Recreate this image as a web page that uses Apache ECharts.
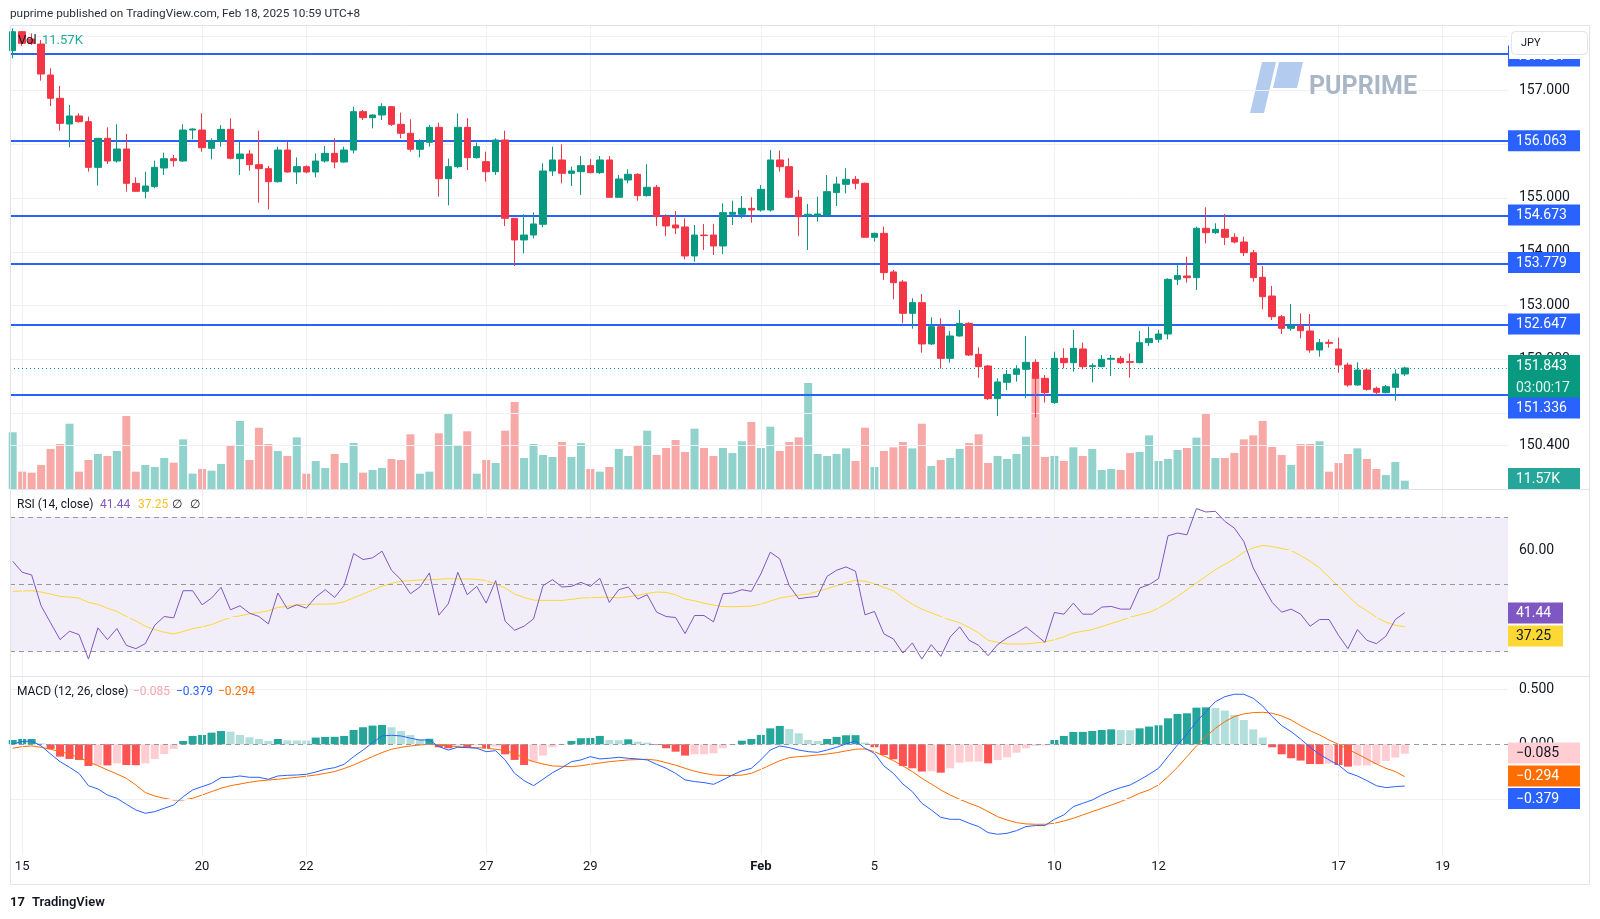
<!DOCTYPE html>
<html><head><meta charset="utf-8">
<script src="https://cdn.jsdelivr.net/npm/echarts@6/dist/echarts.min.js"></script>
<style>html,body{margin:0;padding:0;background:#fff;}#c{width:1600px;height:919px;}</style>
</head><body><div id="c"></div>
<script>
// ---------- DATA ----------
const opens=[157.735,158.087,157.951,157.858,157.283,156.850,156.373,156.522,156.416,155.568,156.107,155.686,155.909,155.271,155.123,155.210,155.556,155.729,155.686,156.261,156.261,155.921,156.057,156.274,155.729,155.816,155.618,155.544,155.302,155.890,155.482,155.581,155.482,155.686,155.828,155.667,155.890,156.602,156.491,156.540,156.695,156.367,156.200,155.903,156.033,156.311,155.358,155.581,156.311,155.748,155.674,155.488,156.076,154.622,154.220,154.312,154.511,155.501,155.705,155.457,155.488,155.600,155.470,155.705,155.012,155.334,155.439,155.043,155.198,154.653,154.498,154.461,153.923,154.312,154.312,154.108,154.696,154.696,154.807,154.776,154.776,155.705,155.581,155.012,154.672,154.665,154.684,155.099,155.253,155.346,155.272,154.269,154.343,153.626,153.440,152.858,153.056,152.289,152.610,152.022,152.437,152.672,152.097,151.880,151.274,151.577,151.725,151.818,151.948,151.651,151.200,152.022,151.942,152.196,151.868,151.868,152.004,152.022,151.961,151.942,152.313,152.375,152.474,153.489,153.551,153.520,154.436,154.355,154.417,154.269,154.182,153.984,153.526,153.179,152.795,152.579,152.622,152.530,152.177,152.319,152.195,151.898,151.527,151.805,151.465,151.385,151.484,151.731];
const highs=[158.149,158.100,158.056,157.933,157.407,157.079,156.726,156.571,156.509,156.107,156.311,156.367,156.187,155.383,155.488,155.692,155.841,155.797,156.367,156.292,156.571,156.107,156.354,156.478,156.045,155.890,156.249,155.593,155.952,156.045,155.754,155.605,155.828,155.965,156.107,155.952,156.695,156.633,156.552,156.757,156.707,156.584,156.460,156.089,156.355,156.398,155.730,156.571,156.479,156.027,155.860,156.107,156.250,154.622,154.696,154.733,155.643,155.953,155.996,155.581,155.779,155.724,155.779,155.779,155.427,155.532,155.458,155.625,155.241,154.696,154.758,154.622,154.498,154.517,154.517,154.900,154.950,155.037,155.012,155.241,155.891,155.878,155.736,155.148,154.888,155.024,155.426,155.395,155.550,155.408,155.284,154.356,154.467,153.663,153.477,153.137,153.217,152.784,152.765,152.530,152.920,152.691,152.227,151.899,151.651,151.806,151.893,152.437,152.004,151.713,152.146,152.208,152.549,152.313,151.930,152.084,152.084,152.066,152.115,152.530,152.610,152.549,153.508,153.756,153.910,154.467,154.826,154.529,154.702,154.343,154.281,154.034,153.736,153.365,152.827,153.031,152.858,152.845,152.381,152.375,152.406,151.941,151.948,151.836,151.496,151.527,151.818,151.867];
const lows=[157.592,157.820,157.840,157.178,156.707,156.249,155.940,156.398,155.488,155.228,155.630,155.655,155.117,155.117,154.993,155.179,155.426,155.581,155.667,156.088,155.859,155.717,155.952,155.717,155.426,155.507,154.912,154.789,155.284,155.470,155.259,155.457,155.383,155.655,155.550,155.655,155.828,156.447,156.292,156.447,156.336,156.107,155.860,155.754,155.953,155.024,154.863,155.550,155.519,155.730,155.303,155.427,154.480,153.737,153.972,154.250,154.455,155.408,155.272,155.222,155.055,155.457,155.445,155.012,155.012,155.272,154.950,155.024,154.480,154.294,154.331,153.861,153.817,154.034,153.941,153.960,154.498,154.622,154.542,154.746,154.746,155.488,154.993,154.294,154.034,154.560,154.684,154.851,155.086,155.160,154.269,154.189,153.477,153.118,152.672,152.573,152.128,152.270,151.831,151.942,152.425,152.066,151.664,151.249,150.952,151.435,151.589,151.280,150.927,151.200,151.175,151.837,151.775,151.818,151.577,151.856,151.694,151.918,151.663,151.930,152.252,152.313,152.375,153.384,153.427,153.291,154.157,154.331,154.126,154.157,153.922,153.445,152.932,152.734,152.474,152.536,152.393,152.127,152.053,152.220,151.756,151.496,151.514,151.422,151.341,151.372,151.236,151.694];
const closes=[158.087,157.871,157.871,157.301,156.850,156.385,156.522,156.416,155.568,156.107,155.686,155.909,155.271,155.123,155.222,155.568,155.729,155.692,156.261,156.280,155.934,156.057,156.274,155.736,155.816,155.618,155.544,155.302,155.890,155.482,155.581,155.482,155.686,155.828,155.667,155.890,156.602,156.491,156.540,156.695,156.367,156.200,155.903,156.045,156.311,155.358,155.581,156.311,155.748,155.953,155.488,156.076,154.622,154.220,154.312,154.517,155.501,155.705,155.457,155.501,155.600,155.470,155.705,155.012,155.352,155.439,155.043,155.198,154.653,154.480,154.443,153.923,154.312,154.300,154.108,154.727,154.733,154.807,154.776,155.160,155.705,155.581,155.012,154.653,154.697,154.702,155.117,155.259,155.346,155.272,154.269,154.343,153.613,153.427,152.858,153.056,152.289,152.610,152.022,152.437,152.672,152.084,151.868,151.274,151.583,151.725,151.825,151.948,151.651,151.385,152.022,151.942,152.208,151.868,151.887,152.004,152.022,151.942,151.948,152.313,152.388,152.474,153.489,153.558,153.520,154.436,154.355,154.417,154.269,154.182,153.984,153.520,153.167,152.795,152.579,152.622,152.536,152.177,152.313,152.301,151.898,151.527,151.805,151.446,151.391,151.496,151.731,151.843];
const volumes=[78.8,24.1,22.7,33.4,55.6,62.6,90.8,24.1,40.3,48.7,45.9,52.8,101.5,24.1,33.4,30.6,43.1,36.6,69.0,21.3,27.8,25.5,34.8,61.2,94.5,40.3,85.2,62.6,52.8,45.9,71.8,21.3,38.9,29.2,48.7,36.1,63.9,22.7,26.4,29.2,41.7,40.3,76.0,21.3,24.1,77.4,105.6,61.2,80.2,21.3,40.3,36.1,81.1,120.9,43.1,62.6,47.3,44.5,65.3,44.5,63.9,27.8,24.1,30.6,55.6,45.9,61.2,81.1,47.3,57.0,68.1,51.4,83.9,57.0,45.9,57.0,50.0,66.3,93.1,57.0,86.6,52.8,65.3,71.8,147.3,48.7,45.9,48.7,56.5,38.9,85.2,30.6,52.8,57.9,65.3,56.5,90.8,32.0,40.3,43.1,55.6,63.9,76.0,36.1,45.9,41.7,48.7,72.7,161.0,44.5,45.9,38.9,57.9,45.9,55.6,26.4,27.8,26.4,50.0,51.4,74.6,38.9,41.7,54.2,57.0,71.4,104.3,43.1,43.1,50.0,69.0,74.6,94.5,58.4,47.3,33.4,62.6,62.6,66.3,24.1,36.1,48.7,56.5,41.7,27.8,19.5,37.5,11.57];
const rsi=[56.8,53.5,52.7,43.5,38.4,33.4,35.9,34.9,27.6,36.9,33.4,36.7,31.7,30.7,32.2,37.7,40.3,39.9,48.0,48.0,43.8,45.8,49.0,42.3,43.5,41.3,40.3,38.1,47.3,42.6,43.8,42.8,46.1,48.3,46.0,49.6,59.1,57.3,57.8,59.8,54.1,51.3,47.1,49.1,53.3,40.7,44.1,53.5,46.8,49.3,44.3,51.0,38.9,36.2,37.4,39.6,49.5,51.3,49.1,49.3,50.5,49.3,51.7,44.5,48.3,49.1,45.5,46.8,41.6,40.3,40.0,35.2,40.6,40.6,38.7,47.1,47.3,48.3,47.8,53.0,59.5,57.5,49.5,45.6,46.0,46.3,52.3,54.1,55.1,53.8,40.8,41.8,35.1,33.6,29.4,32.4,27.6,31.9,28.4,34.2,37.2,33.2,31.7,28.6,31.9,33.9,35.4,37.2,34.9,32.6,41.5,41.0,44.3,41.0,41.0,43.1,43.3,42.5,42.5,48.8,49.8,51.6,64.4,65.2,64.7,72.5,71.5,71.7,68.7,66.7,62.7,54.8,49.5,44.5,41.6,42.5,41.0,37.4,39.4,39.4,34.7,30.7,36.4,33.2,32.2,34.4,39.4,41.44];
const rsiMA=[47.8,47.9,48.0,47.6,47.0,46.3,46.1,45.8,44.5,43.9,42.8,41.8,40.3,39.0,37.4,36.4,35.6,35.1,35.8,36.7,37.2,37.9,39.0,40.0,40.5,41.1,41.5,42.0,43.0,43.3,43.8,43.9,44.0,44.0,44.1,44.7,45.9,47.0,48.2,49.3,50.2,50.8,51.0,51.2,51.3,51.4,51.6,51.5,51.5,51.4,51.0,50.0,48.8,47.0,46.0,45.2,45.1,45.1,45.1,45.4,45.8,45.9,46.0,46.0,45.9,46.2,46.6,47.2,47.6,47.5,46.8,45.5,45.0,44.3,43.7,43.3,43.2,43.3,43.4,44.0,44.9,45.8,46.3,46.7,47.0,47.8,48.6,49.5,50.4,51.1,50.8,50.1,49.0,48.0,45.8,44.0,42.5,41.4,40.3,39.3,38.4,37.0,35.4,33.2,32.6,32.1,32.1,32.1,32.4,32.7,33.4,34.2,35.4,35.9,36.4,37.3,38.2,39.1,40.1,40.8,41.5,42.8,44.5,46.3,48.3,50.3,52.3,54.3,55.9,57.5,59.5,60.8,61.5,61.2,60.6,60.0,58.5,56.8,54.8,52.0,49.3,46.5,43.8,42.0,40.1,38.6,37.7,37.25];
const macd=[0.003,0.024,0.030,-0.015,-0.088,-0.158,-0.209,-0.264,-0.376,-0.406,-0.461,-0.491,-0.545,-0.597,-0.627,-0.612,-0.582,-0.552,-0.476,-0.415,-0.385,-0.355,-0.303,-0.300,-0.288,-0.300,-0.300,-0.318,-0.288,-0.282,-0.279,-0.273,-0.252,-0.227,-0.212,-0.182,-0.112,-0.052,0.015,0.076,0.082,0.076,0.055,0.039,0.039,-0.021,-0.052,-0.027,-0.030,-0.036,-0.067,-0.058,-0.142,-0.264,-0.330,-0.376,-0.318,-0.258,-0.212,-0.158,-0.142,-0.112,-0.133,-0.127,-0.118,-0.127,-0.133,-0.142,-0.182,-0.218,-0.264,-0.324,-0.339,-0.348,-0.364,-0.324,-0.279,-0.242,-0.218,-0.142,-0.052,-0.015,-0.030,-0.052,-0.067,-0.073,-0.052,-0.027,0.003,0.030,-0.036,-0.082,-0.197,-0.264,-0.361,-0.430,-0.536,-0.597,-0.664,-0.682,-0.682,-0.718,-0.748,-0.803,-0.818,-0.809,-0.785,-0.748,-0.739,-0.739,-0.682,-0.642,-0.567,-0.536,-0.506,-0.461,-0.424,-0.394,-0.370,-0.324,-0.273,-0.218,-0.112,-0.006,0.094,0.206,0.297,0.388,0.433,0.455,0.455,0.418,0.348,0.252,0.170,0.115,0.048,-0.027,-0.091,-0.142,-0.188,-0.258,-0.288,-0.330,-0.376,-0.394,-0.385,-0.379];
const signal=[-0.036,-0.021,-0.015,-0.027,-0.045,-0.067,-0.088,-0.121,-0.158,-0.195,-0.233,-0.270,-0.309,-0.370,-0.439,-0.470,-0.491,-0.506,-0.506,-0.491,-0.461,-0.430,-0.400,-0.376,-0.361,-0.345,-0.333,-0.325,-0.318,-0.309,-0.300,-0.290,-0.279,-0.264,-0.248,-0.220,-0.188,-0.150,-0.112,-0.075,-0.045,-0.028,-0.015,-0.006,0.000,-0.006,-0.015,-0.021,-0.027,-0.030,-0.036,-0.045,-0.058,-0.082,-0.127,-0.158,-0.179,-0.197,-0.200,-0.203,-0.195,-0.182,-0.170,-0.158,-0.150,-0.142,-0.139,-0.136,-0.145,-0.167,-0.190,-0.218,-0.245,-0.264,-0.279,-0.283,-0.285,-0.280,-0.264,-0.228,-0.188,-0.150,-0.121,-0.112,-0.106,-0.097,-0.088,-0.076,-0.060,-0.045,-0.042,-0.067,-0.106,-0.148,-0.197,-0.248,-0.309,-0.361,-0.415,-0.461,-0.500,-0.536,-0.567,-0.612,-0.658,-0.688,-0.712,-0.724,-0.727,-0.727,-0.718,-0.697,-0.673,-0.642,-0.612,-0.582,-0.552,-0.521,-0.485,-0.445,-0.415,-0.370,-0.294,-0.209,-0.112,-0.015,0.070,0.145,0.206,0.252,0.276,0.288,0.291,0.282,0.258,0.221,0.170,0.124,0.085,0.039,0.000,-0.045,-0.088,-0.133,-0.179,-0.218,-0.248,-0.294];
const hist=[0.039,0.048,0.048,0.009,-0.045,-0.112,-0.133,-0.142,-0.197,-0.188,-0.192,-0.173,-0.188,-0.190,-0.173,-0.133,-0.088,-0.042,0.030,0.076,0.085,0.106,0.121,0.115,0.085,0.064,0.048,0.030,0.048,0.036,0.035,0.034,0.061,0.067,0.068,0.076,0.130,0.155,0.170,0.176,0.155,0.121,0.085,0.045,0.050,-0.027,-0.036,-0.012,-0.027,-0.009,-0.036,-0.021,-0.091,-0.142,-0.188,-0.158,-0.103,-0.027,-0.006,0.030,0.055,0.058,0.076,0.039,0.037,0.045,0.024,0.015,-0.006,-0.036,-0.067,-0.103,-0.091,-0.090,-0.082,-0.036,-0.006,0.033,0.048,0.085,0.145,0.167,0.139,0.100,0.039,0.030,0.048,0.067,0.082,0.083,0.015,-0.027,-0.097,-0.136,-0.197,-0.218,-0.248,-0.245,-0.258,-0.218,-0.167,-0.158,-0.157,-0.173,-0.142,-0.118,-0.076,-0.036,-0.015,-0.009,0.039,0.076,0.112,0.113,0.121,0.130,0.136,0.130,0.128,0.145,0.161,0.173,0.236,0.276,0.282,0.333,0.336,0.330,0.306,0.267,0.221,0.136,0.061,-0.027,-0.091,-0.127,-0.148,-0.179,-0.180,-0.176,-0.188,-0.203,-0.194,-0.193,-0.179,-0.152,-0.121,-0.085];
const dateTicks=[1,20,31,50,61,79,91,110,121,140,151];
const dateLabels=['15','20','22','27','29','Feb','5','10','12','17','19'];
const priceTicks=[158,157,156,155,154,153,152,151,150.4];
const levels=[157.667,156.063,154.673,153.779,152.647,151.336];
const lastPrice=151.843;
const trendStart=[0,158.215];
const trendEnd=[157.9,153.43];

// ---------- CHART ----------
const chart=echarts.init(document.getElementById('c'),null,{renderer:'canvas',width:1600,height:919});
const FONT='Roboto, "Noto Sans", sans-serif';
const X_MIN=-0.285, X_MAX=157.9;
const GRID_L=10, GRID_W=1498;
const pts=a=>a.map((v,i)=>[i,v]);
const candleData=opens.map((o,i)=>[i,o,closes[i],lows[i],highs[i]]);
const volData=volumes.map((v,i)=>({value:[i,v],itemStyle:{color:closes[i]>=opens[i]?'rgba(38,166,154,0.5)':'rgba(239,83,80,0.5)'}}));
const histData=hist.map((v,i)=>{const p=i>0?hist[i-1]:v;let c;
  if(v>=0)c=(v>=p)?'#26a69a':'#b2dfdb';else c=(v<p)?'#ff5252':'#ffcdd2';
  return {value:[i,v],itemStyle:{color:c}};});
const GRIDC='#eef0f4';
function ml(data){return {silent:true,symbol:['none','none'],label:{show:false},emphasis:{disabled:true},animation:false,data:data};}
const vLines=dateTicks.map(t=>({xAxis:t,lineStyle:{color:GRIDC,width:1,type:'solid'}}));
function xAx(g,show){return {type:'value',gridIndex:g,min:X_MIN,max:X_MAX,splitLine:{show:false},axisTick:{show:false},axisLine:{show:false},
  axisLabel:show?{show:true,customValues:dateTicks,margin:5,color:'#131722',fontSize:13,fontFamily:FONT,
    formatter:v=>{const k=dateTicks.indexOf(Math.round(v));if(k<0)return '';const s=dateLabels[k];return s==='Feb'?'{b|Feb}':s;},
    rich:{b:{fontWeight:'bold',fontSize:13,fontFamily:FONT,color:'#131722'}}}:{show:false}};}
function yAx(g,min,max,vals,fmt){return {type:'value',gridIndex:g,position:'right',min:min,max:max,scale:true,splitLine:{show:false},axisTick:{show:false},axisLine:{show:false},
  axisLabel:vals?{show:true,customValues:vals,formatter:fmt,margin:11,color:'#131722',fontSize:14,fontFamily:FONT}:{show:false}};}

const option={
  animation:false,
  backgroundColor:'#ffffff',
  textStyle:{fontFamily:FONT},
  grid:[
    {left:GRID_L,top:25,width:GRID_W,height:464},
    {left:GRID_L,top:490,width:GRID_W,height:186},
    {left:GRID_L,top:677,width:GRID_W,height:178}
  ],
  xAxis:[xAx(0,false),xAx(1,false),xAx(2,true)],
  yAxis:[
    yAx(0,149.596,158.2112,priceTicks,v=>v.toFixed(3)),
    yAx(0,0,645,null,null),
    yAx(1,22.54,78.06,[60,40],v=>v.toFixed(2)),
    yAx(2,-1.0064,0.6118,[0.5,0,-0.5],v=>(v<0?'\u2212':'')+Math.abs(v).toFixed(3))
  ],
  series:[
    {type:'line',xAxisIndex:0,yAxisIndex:0,data:[],z:1,silent:true,
      markLine:ml(priceTicks.map(p=>({yAxis:p,lineStyle:{color:GRIDC,width:1,type:'solid'}})).concat(vLines))},
    {type:'bar',xAxisIndex:0,yAxisIndex:1,data:volData,barWidth:8,z:2,silent:true},
    {type:'candlestick',xAxisIndex:0,yAxisIndex:0,data:candleData,barWidth:7,z:5,silent:true,
      itemStyle:{color:'#089981',color0:'#f23645',borderColor:'#089981',borderColor0:'#f23645',borderWidth:1}},
    {type:'line',xAxisIndex:0,yAxisIndex:0,data:[],z:6,silent:true,
      markLine:ml(levels.map(p=>({yAxis:p,lineStyle:{color:'#2962ff',width:2,type:'solid'}}))
        .concat([{yAxis:lastPrice,lineStyle:{color:'#089981',width:1,type:[1,3]}}])
        .concat([[{coord:trendStart,lineStyle:{color:'#ff9800',width:2,type:'solid'}},{coord:trendEnd}]]))},
    {type:'line',xAxisIndex:1,yAxisIndex:2,data:[],z:1,silent:true,
      markArea:{silent:true,itemStyle:{color:'rgba(126,87,194,0.1)'},data:[[{yAxis:30},{yAxis:70}]]},
      markLine:ml([40,60].map(p=>({yAxis:p,lineStyle:{color:GRIDC,width:1,type:'solid'}})).concat(vLines)
        .concat([70,50,30].map(p=>({yAxis:p,lineStyle:{color:'#9598a1',width:1,type:[5,4]}}))))},
    {type:'line',xAxisIndex:1,yAxisIndex:2,data:pts(rsiMA),showSymbol:false,symbol:'none',lineStyle:{color:'#fdd835',width:1},z:4,silent:true},
    {type:'line',xAxisIndex:1,yAxisIndex:2,data:pts(rsi),showSymbol:false,symbol:'none',lineStyle:{color:'#7e57c2',width:1},z:5,silent:true},
    {type:'line',xAxisIndex:2,yAxisIndex:3,data:[],z:1,silent:true,
      markLine:ml([0.5,-0.5].map(p=>({yAxis:p,lineStyle:{color:GRIDC,width:1,type:'solid'}})).concat(vLines)
        .concat([{yAxis:0,lineStyle:{color:'#9598a1',width:1,type:[5,4]}}]))},
    {type:'bar',xAxisIndex:2,yAxisIndex:3,data:histData,barWidth:8,z:2,silent:true},
    {type:'line',xAxisIndex:2,yAxisIndex:3,data:pts(signal),showSymbol:false,symbol:'none',lineStyle:{color:'#ff6d00',width:1},z:4,silent:true},
    {type:'line',xAxisIndex:2,yAxisIndex:3,data:pts(macd),showSymbol:false,symbol:'none',lineStyle:{color:'#2962ff',width:1},z:5,silent:true}
  ]
};

// ---------- annotations ----------
const G=[];
function txt(x,y,t,fill,size,weight,align){G.push({type:'text',z:100,style:{x:x,y:y,text:t,fill:fill,fontSize:size||13,fontFamily:FONT,fontWeight:weight||'normal',align:align||'left',verticalAlign:'middle'}});}
function rect(x,y,w,h,fill,stroke,r){G.push({type:'rect',z:100,shape:{x:x,y:y,width:w,height:h,r:r||0},style:{fill:fill,stroke:stroke||null,lineWidth:1}});}
function line(x1,y1,x2,y2,c){G.push({type:'line',z:99,shape:{x1:x1,y1:y1,x2:x2,y2:y2},style:{stroke:c,lineWidth:1}});}
function box(yc,t,bg,fg,w){rect(1508,yc-10.5,w||72,21,bg,null,0);txt(1516,yc+0.5,t,fg||'#ffffff',14,'normal');}
// frame
line(10.5,25.5,1589.5,25.5,'#e0e3eb');
line(10.5,25.5,10.5,884.5,'#e0e3eb');
line(1589.5,25.5,1589.5,884.5,'#e0e3eb');
line(10.5,884.5,1589.5,884.5,'#e0e3eb');
line(10.5,489.5,1589.5,489.5,'#e0e3eb');
line(10.5,676.5,1589.5,676.5,'#e0e3eb');
// header
txt(10,14,'puprime published on TradingView.com, Feb 18, 2025 10:59 UTC+8','#2a2e39',11.8);
// legends
txt(18,41,'Vol','#131722',13);
txt(42,41,'11.57K','#22ab94',13);
txt(17,505,'RSI (14, close)','#131722',12);
txt(100,505,'41.44','#7e57c2',12);
txt(138,505,'37.25','#f9c31f',12);
txt(172,505,'\u2205','#131722',12);
txt(190,505,'\u2205','#131722',12);
txt(17,692,'MACD (12, 26, close)','#131722',12);
txt(133,692,'\u22120.085','#f7a6ad',12);
txt(176,692,'\u22120.379','#2962ff',12);
txt(218,692,'\u22120.294','#ff6d00',12);
// price scale boxes
box(56,'157.667','#2962ff');
rect(1509,26,80,33,'#ffffff',null,0);
rect(1511.5,31.5,76,23,'#ffffff','#e0e3eb',4);
txt(1521,43.5,'JPY','#131722',11);
box(140.7,'156.063','#2962ff');
box(215,'154.673','#2962ff');
box(262.5,'153.779','#2962ff');
box(324,'152.647','#2962ff');
rect(1508,355,72,44,'#089981',null,0);
txt(1516,366.5,'151.843','#ffffff',14);
txt(1516,388,'03:00:17','#e3f4f1',14);
box(408,'151.336','#2962ff');
box(478.5,'11.57K','#26a69a');
// RSI boxes
box(613,'41.44','#7e57c2','#ffffff',55);
box(636,'37.25','#fdd835','#131722',55);
// MACD boxes
box(753,'\u22120.085','#ffcdd2','#131722');
box(776,'\u22120.294','#ff6d00');
box(798.5,'\u22120.379','#2962ff');
// watermark
G.push({type:'polygon',z:3,shape:{points:[[1262,62],[1276,62],[1264,113],[1250,113]]},style:{fill:'#b3cbee'}});
G.push({type:'polygon',z:3,shape:{points:[[1279,62],[1303,62],[1297,88],[1273,88]]},style:{fill:'#b3cbee'}});
txt(1309,88,'PUPRIME','#aab5c6',25,'bold');
// footer logo
txt(10,903,'17','#131722',13,'bold');
txt(32,903,'TradingView','#131722',13,'600');
option.graphic={elements:G};
chart.setOption(option);
</script></body></html>
